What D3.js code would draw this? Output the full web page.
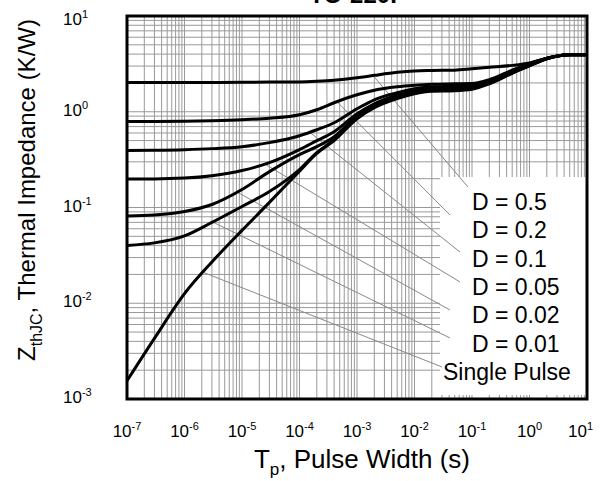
<!DOCTYPE html>
<html>
<head>
<meta charset="utf-8">
<script src="https://cdn.jsdelivr.net/npm/d3@7"></script>
<style>
body { margin: 0; background: #fff; }
text { font-family: "Liberation Sans", Arial, sans-serif; fill: #000; }
</style>
</head>
<body>
<svg id="chart" width="612" height="481"></svg>
<script>
// pulse width grid (s) and Zth values (K/W)
var pulseWidth = [1e-7, 3e-7, 1e-6, 3e-6, 1e-5, 3e-5, 1e-4, 2e-4, 4e-4, 1e-3, 2e-3, 5e-3, 1e-2, 2e-2, 5e-2, 1e-1, 2e-1, 5e-1, 1, 2, 5, 10];
var zD05 = [2.02, 2.02, 2.02, 2.024, 2.03, 2.04, 2.05, 2.08, 2.13, 2.26, 2.40, 2.58, 2.67, 2.70, 2.72, 2.81, 2.91, 3.05, 3.24, 3.63, 3.96, 3.97];
var zD02 = [0.792, 0.792, 0.796, 0.806, 0.825, 0.856, 0.931, 1.049, 1.241, 1.503, 1.675, 1.82, 1.888, 1.934, 1.957, 1.97, 2.16, 2.72, 3.16, 3.62, 3.94, 3.95];
var zD01 = [0.395, 0.397, 0.402, 0.412, 0.432, 0.476, 0.562, 0.649, 0.768, 1.075, 1.334, 1.577, 1.736, 1.82, 1.843, 1.88, 2.09, 2.65, 3.12, 3.61, 3.94, 3.95];
var zD005 = [0.199, 0.199, 0.203, 0.215, 0.243, 0.294, 0.402, 0.499, 0.619, 0.953, 1.212, 1.485, 1.655, 1.757, 1.778, 1.83, 2.05, 2.61, 3.09, 3.60, 3.94, 3.95];
var zD002 = [0.0815, 0.0835, 0.0908, 0.1075, 0.154, 0.237, 0.357, 0.432, 0.549, 0.898, 1.155, 1.433, 1.615, 1.715, 1.736, 1.79, 2.02, 2.58, 3.06, 3.59, 3.94, 3.95];
var zD001 = [0.0402, 0.0427, 0.0505, 0.0698, 0.1024, 0.1468, 0.249, 0.374, 0.511, 0.866, 1.127, 1.399, 1.577, 1.675, 1.695, 1.75, 1.99, 2.55, 3.03, 3.58, 3.94, 3.95];
var zSingle = [0.00155, 0.0043, 0.0126, 0.027, 0.0577, 0.113, 0.24, 0.367, 0.5, 0.845, 1.10, 1.37, 1.54, 1.635, 1.655, 1.715, 1.957, 2.52, 3.01, 3.57, 3.94, 3.95];

var seriesNames = ["D = 0.5", "D = 0.2", "D = 0.1", "D = 0.05", "D = 0.02", "D = 0.01", "Single Pulse"];
var seriesValues = [zD05, zD02, zD01, zD005, zD002, zD001, zSingle];

// leader lines: where they leave each curve, and where they end near the label
var leaderFromT = [1.9e-3, 4.5e-4, 1.5e-4, 2.5e-5, 8.2e-6, 3.1e-6, 2.1e-6];
var leaderToT = [0.085, 0.0414, 0.0618, 0.0618, 0.0414, 0.0414, 0.0301];
var leaderToZ = [0.164, 0.0836, 0.0343, 0.0167, 0.0085, 0.00434, 0.00216];

var xTickExp = [-7, -6, -5, -4, -3, -2, -1, 0, 1];
var yTickExp = [-3, -2, -1, 0, 1];

var svg = d3.select("#chart"),
    margin = {top: 16, right: 25, bottom: 82, left: 127},
    width = +svg.attr("width") - margin.left - margin.right,
    height = +svg.attr("height") - margin.top - margin.bottom,
    g = svg.append("g").attr("transform", "translate(" + margin.left + "," + margin.top + ")");

var x = d3.scaleLog().domain([1e-7, 10]).range([0, width]);
var y = d3.scaleLog().domain([1e-3, 10]).range([height, 0]);

// grid
g.selectAll(".gx").data(x.ticks()).enter().append("line")
  .attr("x1", d => x(d)).attr("x2", d => x(d))
  .attr("y1", 0).attr("y2", height)
  .attr("stroke", "#999").attr("stroke-width", 1);
g.selectAll(".gy").data(y.ticks()).enter().append("line")
  .attr("x1", 0).attr("x2", width)
  .attr("y1", d => y(d)).attr("y2", d => y(d))
  .attr("stroke", "#999").attr("stroke-width", 1);

// white legend area
g.append("rect")
  .attr("x", 313).attr("y", 161)
  .attr("width", width - 313).attr("height", 218)
  .attr("fill", "#fff");

function zAt(vals, t) {
  var lt = Math.log10(t);
  for (var i = 0; i < pulseWidth.length - 1; i++) {
    var a = Math.log10(pulseWidth[i]), b = Math.log10(pulseWidth[i + 1]);
    if (lt >= a && lt <= b) {
      var f = (lt - a) / (b - a);
      return Math.pow(10, Math.log10(vals[i]) + f * (Math.log10(vals[i + 1]) - Math.log10(vals[i])));
    }
  }
  return vals[vals.length - 1];
}

// leaders
seriesValues.forEach(function(vals, i) {
  g.append("line")
    .attr("x1", x(leaderFromT[i])).attr("y1", y(zAt(vals, leaderFromT[i])))
    .attr("x2", x(leaderToT[i])).attr("y2", y(leaderToZ[i]))
    .attr("stroke", "#888").attr("stroke-width", 1);
});

// curves
var line = d3.line()
  .x(function(d) { return x(d[0]); })
  .y(function(d) { return y(d[1]); })
  .curve(d3.curveMonotoneX);

g.selectAll(".curve")
  .data(seriesValues)
  .enter().append("path")
  .attr("class", "curve")
  .attr("fill", "none")
  .attr("stroke", "#000")
  .attr("stroke-width", 3)
  .attr("d", function(vals) { return line(pulseWidth.map(function(t, i) { return [t, vals[i]]; })); });

// frame
g.append("rect")
  .attr("width", width).attr("height", height)
  .attr("fill", "none").attr("stroke", "#000").attr("stroke-width", 3);

// legend labels
var legendY = [194, 222, 251, 279, 307, 336, 364];
seriesNames.forEach(function(name, i) {
  g.append("text")
    .attr("x", i < 6 ? 345 : 316)
    .attr("y", legendY[i])
    .style("font-size", "23px")
    .text(name);
});

// tick labels
xTickExp.forEach(function(e) {
  var t = g.append("text")
    .attr("x", x(Math.pow(10, e)))
    .attr("y", height + 38)
    .attr("text-anchor", "middle")
    .style("font-size", "17px")
    .text("10");
  t.append("tspan").attr("dy", -7).style("font-size", "11px").text(e);
  var w = t.node().getComputedTextLength();
  if (x(Math.pow(10, e)) + w / 2 > width + 6) t.attr("x", width + 6 - w / 2);
});

yTickExp.forEach(function(e) {
  var t = g.append("text")
    .attr("x", -64)
    .attr("y", Math.max(y(Math.pow(10, e)) + 4, 9))
    .style("font-size", "17px")
    .text("10");
  t.append("tspan").attr("dy", -7).style("font-size", "11px").text(e);
});

// axis titles
var xt = svg.append("text")
  .attr("x", 362).attr("y", 468)
  .attr("text-anchor", "middle")
  .style("font-size", "26px")
  .text("T");
xt.append("tspan").attr("dy", 7).style("font-size", "17px").text("p");
xt.append("tspan").attr("dy", -7).text(", Pulse Width (s)");

var yt = svg.append("text")
  .attr("transform", "translate(35,190) rotate(-90)")
  .attr("text-anchor", "middle")
  .style("font-size", "24px")
  .text("Z");
yt.append("tspan").attr("dy", 7).style("font-size", "16px").text("thJC");
yt.append("tspan").attr("dy", -7).text(", Thermal Impedance (K/W)");

// title, cut off at the top edge as in the source image
svg.append("text")
  .attr("x", 357).attr("y", 3)
  .attr("text-anchor", "middle")
  .style("font-size", "24px").style("font-weight", "bold")
  .text("TO-220F");
</script>
</body>
</html>
